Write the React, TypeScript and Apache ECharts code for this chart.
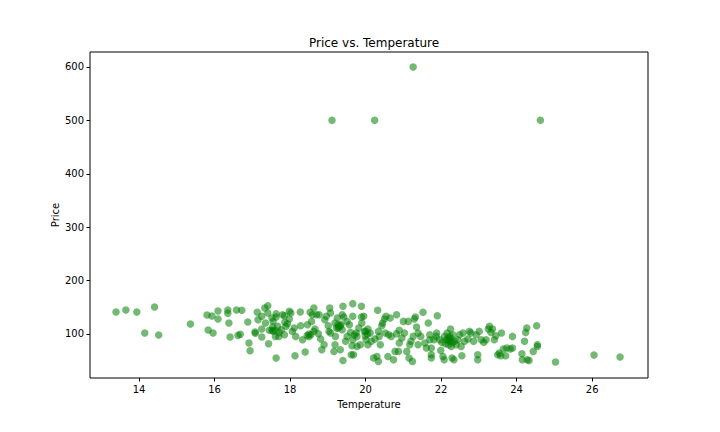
import React, { useEffect, useRef } from "react";
import * as echarts from "echarts";

const temperature: number[] = [
  13.39, 13.65, 13.94, 14.41, 14.15, 14.52, 15.36, 15.8, 15.93, 16.09, 16.09, 16.35, 16.35, 16.58, 16.38, 15.83, 15.96, 16.41, 16.62,
  16.72, 16.68, 16.88, 16.91, 16.94, 17.07, 17.08, 17.13, 17.15, 17.25, 17.25, 17.25, 17.33, 17.41, 17.35, 17.41, 17.43, 17.52, 17.55,
  17.45, 17.52, 17.54, 17.63, 17.63, 17.67, 17.61, 17.7, 17.63, 17.71, 17.77, 17.8, 17.85, 17.86, 17.89, 17.85, 17.98, 18.02, 17.98,
  17.93, 18.06, 18.11, 18.15, 18.13, 18.27, 18.28, 18.33, 18.4, 18.46, 18.53, 18.63, 18.59, 18.57, 18.7, 18.77, 18.66, 18.55, 18.5,
  18.63, 18.75, 18.81, 18.84, 18.9, 18.92, 18.96, 19.01, 19.03, 19.05, 19.07, 19.16, 19.19, 19.2, 19.25, 19.19, 19.23,
  19.4, 19.66, 19.89, 19.38, 19.42, 19.27, 19.33, 19.27, 19.38, 19.07, 19.33, 19.4, 19.47, 19.51, 19.51, 19.57, 19.6, 19.66, 19.66,
  19.64, 19.62, 19.68, 19.77, 19.77, 19.82, 19.86, 19.89, 19.9, 19.95, 19.97, 19.99, 20.01, 20.06, 20.06, 20.12, 20.15, 20.21, 20.25,
  20.3, 20.32, 20.34, 20.34, 20.36, 20.39, 20.43, 20.45, 20.5, 20.54, 20.52, 20.59, 20.65, 20.61, 20.68, 20.74, 20.82, 20.78, 20.82,
  20.87, 20.89, 20.89, 20.96, 21.0, 21.03, 21.09, 21.13, 21.15, 21.17, 21.2, 21.24, 21.26, 21.29, 21.32, 21.35, 21.39, 21.39, 21.46,
  21.52, 21.57, 21.61, 21.66, 21.7, 21.74, 21.74, 21.81, 21.88,
  21.9, 21.7, 21.74, 21.87, 21.96, 21.99, 22.02, 22.05, 22.08, 22.09, 22.11, 22.14, 22.16, 22.18, 22.2, 22.23, 22.25, 22.25, 22.27,
  22.29, 22.31, 22.34, 22.36, 22.4, 22.44, 22.49, 22.53, 22.55, 22.58, 22.62, 22.71, 22.75, 22.79, 22.86, 22.93, 22.97, 22.97, 23.01,
  23.06, 23.13, 23.19, 23.25, 23.28, 23.32, 23.36, 23.41, 23.45, 23.5, 23.54, 23.58, 23.6, 23.65, 23.71, 23.74, 23.83, 23.89, 23.89,
  24.14, 24.15, 24.21, 24.24, 24.27, 24.28, 24.33, 24.44, 24.53, 24.55, 24.55, 25.03, 26.05, 26.74,
  19.11, 20.24, 21.26, 24.63,
  17.55, 17.6, 18.45, 18.5, 19.3, 19.35, 19.7, 19.75, 20.0, 20.05, 22.2, 22.25, 22.3,
];

const price: number[] = [
  141.2, 145, 141, 150.6, 101.9, 98, 118.7, 135.6, 133.7, 143, 128, 145, 139, 145, 120.6, 107.5, 101.9, 94.4, 97.4,
  144.3, 99.5, 122.4, 83, 68.7, 103.6, 101.5, 140.5, 126.8, 133, 109.3, 94.3, 148.6, 153, 120.5, 139.3, 81.8, 129.9, 123.6,
  106.8, 106.8, 113, 138, 131.8, 114.3, 95.5, 95.5, 54.9, 103, 108, 136, 134.3, 121.8, 114.3, 98.7, 142.4, 139.3, 128,
  119, 104.9, 111, 95.5, 59.3, 141.1, 115.5, 89.3, 66.2, 117.4, 140.5, 148.6, 136, 123.6, 136, 136, 109.3, 98.7, 95.5,
  104.9, 100.5, 90.5, 70.5, 79.9, 126.8, 133, 115.5, 104.9, 148.6, 139.3, 67.4, 79.9, 95.5, 129.9, 120.5, 111,
  151.8, 156.8, 151.8, 136.1, 131.8, 117.4, 115.5, 111, 108, 101.8, 70.5, 50.5, 86.2, 95.5, 123.6, 117.4, 103, 133, 89.3,
  78, 61.2, 61.2, 95.5, 76.8, 111, 79.9, 131.8, 120.5, 133, 104.9, 96.8, 89.3, 109.3, 79.9, 101.8, 86.2, 54.9, 90.5,
  58, 144.3, 48.7, 104.9, 95.5, 79.9, 115.5, 120.5, 128, 133, 101.8, 58, 129.9, 98.6, 95.5, 51.8, 136.1, 67.4, 100.5,
  67.4, 83, 106.8, 92.4, 123.6, 101.8, 67.4, 123.6, 54.9, 79.9, 86.2, 48.7, 95.5, 128, 131.8, 113, 101.8, 79.9, 95.5,
  140.5, 83, 73.7, 120.5, 98.6, 61.2, 54.9, 89.3, 101.8,
  134.3, 89.3, 73.7, 95.5, 89.3, 69.3, 84.3, 58, 51.8, 95.5, 81.8, 89.3, 101.8, 92.4, 79.9, 95.5, 109.3, 86.2, 76.8,
  54.9, 98.6, 51.8, 86.2, 79.9, 89.3, 98.6, 76.8, 59.3, 101.8, 86.2, 90.5, 104.9, 101.8, 86.2, 98.6, 61.2, 51.8, 104.9,
  89.3, 84.3, 89.3, 109.3, 114.3, 103, 109.3, 89.3, 96.8, 61.2, 64.3, 59.3, 101.8, 71.8, 59.3, 73.7, 71.8, 73.7, 95.5,
  63, 51.8, 86.2, 103, 111, 51.8, 50.5, 67.4, 115.5, 79.9, 76.8, 47.4, 60.5, 56.8,
  500, 500, 600, 500,
  105, 107, 97, 100, 113, 118, 98, 102, 105, 100, 88, 92, 84,
];

const xTicks: number[] = [14, 16, 18, 20, 22, 24, 26];
const yTicks: number[] = [100, 200, 300, 400, 500, 600];

const FONT = "DejaVu Sans";

export default function App() {
  const ref = useRef<HTMLDivElement>(null);
  useEffect(() => {
    if (!ref.current) return;
    const chart = echarts.init(ref.current, undefined, { renderer: "svg" });
    const data = temperature.map((t, i) => [t, price[i]]);
    chart.setOption({
      animation: false,
      backgroundColor: "#ffffff",
      title: {
        text: "Price vs. Temperature",
        left: 369,
        top: 32,
        textAlign: "center",
        textStyle: { fontFamily: FONT, fontSize: 12, fontWeight: "normal", color: "#000" },
      },
      grid: {
        left: 90,
        right: 72,
        top: 52,
        bottom: 54,
        show: true,
        borderColor: "#000",
        borderWidth: 1,
        backgroundColor: "transparent",
      },
      xAxis: {
        type: "value",
        min: 12.7,
        max: 27.48,
        name: "Temperature",
        nameLocation: "middle",
        nameGap: 21,
        nameMoveOverlap: false,
        nameTextStyle: { fontFamily: FONT, fontSize: 10, color: "#000" },
        splitLine: { show: false },
        axisLine: { show: false },
        axisTick: { show: true, length: 3.5, inside: false, lineStyle: { color: "#000" }, customValues: xTicks },
        axisLabel: { fontFamily: FONT, fontSize: 10, color: "#000", margin: 6, customValues: xTicks },
      },
      yAxis: {
        type: "value",
        min: 17.6,
        max: 628,
        name: "Price",
        nameLocation: "middle",
        nameGap: 30,
        nameRotate: 90,
        nameMoveOverlap: false,
        nameTextStyle: { fontFamily: FONT, fontSize: 10, color: "#000" },
        splitLine: { show: false },
        axisLine: { show: false },
        axisTick: { show: true, length: 3.5, inside: false, lineStyle: { color: "#000" }, customValues: yTicks },
        axisLabel: { fontFamily: FONT, fontSize: 10, color: "#000", margin: 6, customValues: yTicks },
      },
      series: [
        {
          type: "scatter",
          data,
          symbolSize: 7.5,
          itemStyle: { color: "#008000", opacity: 0.55 },
        },
      ],
    });
    return () => chart.dispose();
  }, []);
  return (
    <div
      ref={ref}
      style={{ position: "fixed", left: 0, top: 0, width: 720, height: 432 }}
    />
  );
}
